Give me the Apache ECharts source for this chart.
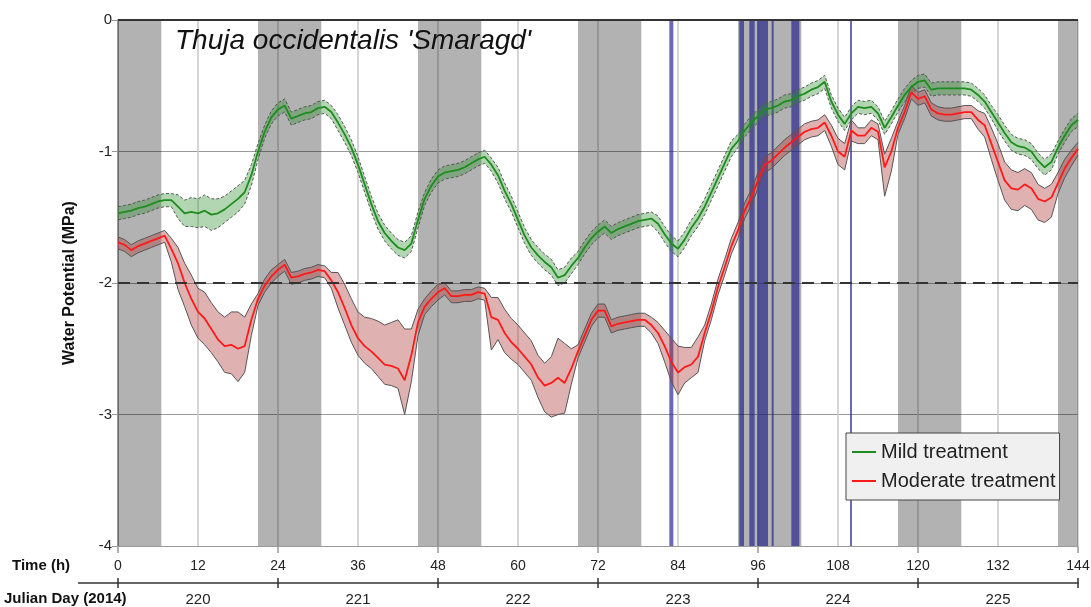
<!DOCTYPE html>
<html>
<head>
<meta charset="utf-8">
<script src="https://cdn.jsdelivr.net/npm/echarts@6/dist/echarts.min.js"></script>
<style>
  html, body { margin: 0; padding: 0; background: #fff; }
  #chart { width: 1091px; height: 607px; }
</style>
</head>
<body>
<div id="chart"></div>
<script>
// hourly readings, t = 0 .. 144 h
var green = [-1.47,-1.46,-1.45,-1.43,-1.42,-1.40,-1.38,-1.37,-1.37,-1.42,
  -1.47,-1.46,-1.47,-1.45,-1.48,-1.47,-1.44,-1.40,-1.36,-1.31,
  -1.18,-1.00,-0.85,-0.74,-0.68,-0.65,-0.75,-0.73,-0.71,-0.70,
  -0.67,-0.66,-0.70,-0.78,-0.87,-0.97,-1.10,-1.25,-1.40,-1.53,
  -1.62,-1.68,-1.73,-1.75,-1.70,-1.52,-1.36,-1.26,-1.19,-1.16,
  -1.15,-1.14,-1.12,-1.09,-1.06,-1.04,-1.10,-1.18,-1.30,-1.40,
  -1.52,-1.64,-1.73,-1.79,-1.84,-1.88,-1.96,-1.94,-1.87,-1.81,
  -1.73,-1.66,-1.61,-1.57,-1.62,-1.59,-1.57,-1.55,-1.53,-1.52,
  -1.51,-1.55,-1.63,-1.70,-1.74,-1.67,-1.58,-1.51,-1.42,-1.31,
  -1.20,-1.09,-0.98,-0.92,-0.84,-0.78,-0.73,-0.68,-0.67,-0.65,
  -0.62,-0.61,-0.58,-0.56,-0.53,-0.51,-0.47,-0.62,-0.72,-0.79,
  -0.71,-0.66,-0.67,-0.66,-0.71,-0.82,-0.74,-0.65,-0.57,-0.51,
  -0.47,-0.46,-0.53,-0.52,-0.52,-0.52,-0.52,-0.52,-0.53,-0.57,
  -0.62,-0.70,-0.78,-0.86,-0.93,-0.96,-0.97,-1.00,-1.07,-1.12,
  -1.08,-0.97,-0.88,-0.80,-0.76];

// half width of the mild band
var greenErr = [0.05,0.05,0.05,0.05,0.05,0.05,0.05,0.05,0.05,0.09,
  0.10,0.11,0.11,0.12,0.12,0.11,0.10,0.10,0.10,0.09,
  0.08,0.06,0.05,0.05,0.05,0.05,0.05,0.05,0.05,0.05,
  0.05,0.05,0.05,0.06,0.06,0.06,0.06,0.06,0.06,0.06,
  0.06,0.06,0.06,0.06,0.06,0.06,0.05,0.05,0.05,0.05,
  0.05,0.05,0.05,0.05,0.05,0.05,0.05,0.06,0.06,0.06,
  0.06,0.06,0.06,0.06,0.06,0.06,0.06,0.06,0.06,0.05,
  0.05,0.05,0.05,0.05,0.05,0.05,0.05,0.05,0.05,0.05,
  0.05,0.06,0.06,0.06,0.06,0.06,0.06,0.06,0.06,0.06,
  0.06,0.06,0.06,0.05,0.05,0.05,0.05,0.05,0.05,0.05,
  0.05,0.05,0.05,0.05,0.05,0.05,0.05,0.05,0.05,0.05,
  0.05,0.05,0.05,0.05,0.05,0.05,0.05,0.05,0.05,0.05,
  0.05,0.05,0.05,0.05,0.05,0.05,0.05,0.05,0.05,0.05,
  0.05,0.05,0.06,0.06,0.06,0.06,0.06,0.06,0.06,0.06,
  0.06,0.05,0.05,0.05,0.05];

var red = [-1.69,-1.71,-1.75,-1.72,-1.70,-1.68,-1.66,-1.64,-1.74,-1.85,
  -2.00,-2.12,-2.22,-2.27,-2.35,-2.43,-2.48,-2.47,-2.50,-2.48,
  -2.28,-2.12,-2.02,-1.95,-1.90,-1.86,-1.96,-1.95,-1.93,-1.92,
  -1.90,-1.91,-1.98,-2.07,-2.19,-2.32,-2.42,-2.48,-2.52,-2.57,
  -2.62,-2.63,-2.65,-2.74,-2.55,-2.30,-2.18,-2.12,-2.07,-2.04,
  -2.10,-2.10,-2.09,-2.09,-2.07,-2.08,-2.26,-2.28,-2.38,-2.45,
  -2.50,-2.56,-2.62,-2.72,-2.78,-2.76,-2.72,-2.76,-2.65,-2.52,
  -2.40,-2.28,-2.21,-2.21,-2.33,-2.31,-2.30,-2.29,-2.28,-2.28,
  -2.32,-2.38,-2.48,-2.60,-2.68,-2.64,-2.62,-2.56,-2.38,-2.22,
  -2.03,-1.88,-1.72,-1.60,-1.45,-1.35,-1.22,-1.10,-1.07,-1.02,
  -0.97,-0.93,-0.89,-0.85,-0.83,-0.82,-0.78,-0.88,-1.00,-1.04,
  -0.84,-0.88,-0.88,-0.82,-0.85,-1.12,-1.00,-0.82,-0.70,-0.55,
  -0.60,-0.58,-0.68,-0.71,-0.72,-0.72,-0.71,-0.70,-0.70,-0.76,
  -0.80,-0.94,-1.08,-1.22,-1.28,-1.29,-1.25,-1.28,-1.36,-1.38,
  -1.35,-1.24,-1.13,-1.05,-0.98];

// band of the moderate treatment, distance above / below the mean
var redUp = [0.04,0.04,0.04,0.04,0.04,0.04,0.04,0.04,0.08,0.12,
  0.15,0.18,0.18,0.20,0.20,0.21,0.22,0.25,0.28,0.22,
  0.12,0.04,0.05,0.05,0.04,0.04,0.04,0.04,0.04,0.04,
  0.04,0.04,0.06,0.15,0.18,0.20,0.20,0.22,0.25,0.28,
  0.30,0.33,0.37,0.39,0.20,0.10,0.06,0.06,0.06,0.04,
  0.04,0.04,0.04,0.04,0.04,0.04,0.15,0.17,0.18,0.18,
  0.18,0.18,0.18,0.17,0.17,0.20,0.30,0.30,0.15,0.05,
  0.05,0.05,0.05,0.05,0.05,0.05,0.05,0.05,0.05,0.05,
  0.06,0.08,0.12,0.18,0.20,0.15,0.13,0.15,0.06,0.06,
  0.06,0.06,0.06,0.06,0.06,0.06,0.06,0.06,0.06,0.06,
  0.06,0.06,0.06,0.06,0.06,0.06,0.06,0.08,0.10,0.10,
  0.08,0.06,0.06,0.06,0.06,0.10,0.10,0.05,0.05,0.05,
  0.05,0.05,0.05,0.05,0.05,0.05,0.05,0.05,0.05,0.07,
  0.09,0.12,0.14,0.14,0.14,0.13,0.12,0.12,0.11,0.10,
  0.10,0.08,0.07,0.06,0.05];

var redDown = [0.05,0.05,0.05,0.05,0.05,0.05,0.05,0.05,0.10,0.20,
  0.18,0.20,0.20,0.20,0.18,0.17,0.20,0.22,0.25,0.20,
  0.12,0.05,0.05,0.05,0.05,0.05,0.05,0.05,0.05,0.05,
  0.05,0.05,0.06,0.12,0.13,0.13,0.13,0.13,0.13,0.14,
  0.15,0.15,0.15,0.26,0.20,0.10,0.06,0.06,0.06,0.05,
  0.05,0.05,0.05,0.05,0.05,0.05,0.25,0.15,0.15,0.13,
  0.12,0.12,0.12,0.15,0.20,0.26,0.28,0.23,0.12,0.05,
  0.05,0.05,0.05,0.05,0.05,0.05,0.05,0.05,0.05,0.05,
  0.06,0.08,0.12,0.15,0.17,0.12,0.10,0.12,0.06,0.06,
  0.06,0.06,0.06,0.06,0.06,0.06,0.06,0.06,0.06,0.06,
  0.06,0.06,0.06,0.06,0.06,0.06,0.06,0.08,0.10,0.10,
  0.08,0.06,0.06,0.06,0.06,0.22,0.15,0.05,0.05,0.05,
  0.05,0.05,0.05,0.05,0.05,0.05,0.05,0.05,0.05,0.07,
  0.09,0.12,0.14,0.15,0.16,0.16,0.16,0.16,0.16,0.16,
  0.15,0.08,0.07,0.06,0.05];

// night periods and rain events (hours)
var nightStart = [0, 21, 45, 69, 93, 117, 141];
var nightEnd = [6.5, 30.5, 54.5, 78.5, 102.5, 126.5, 144];
var rainStart = [82.7, 93.2, 94.7, 95.9, 98.05, 101.0, 109.8];
var rainEnd = [83.3, 93.9, 95.5, 97.5, 98.35, 102.2, 110.1];

var julianDays = ['220', '221', '222', '223', '224', '225'];
var threshold = -2;

var FONT = '"Liberation Sans", Arial, sans-serif';

var hours = green.map(function (v, i) { return i; });

function pairs(f) {
  return hours.map(function (h, i) { return [h, +f(i).toFixed(3)]; });
}

// band drawn as one polygon between lower and upper limits
function bandSeries(name, lo, hi, fill, edge) {
  return {
    name: name, type: 'custom', silent: true, z: 3,
    data: hours.map(function (h, i) { return [h, lo[i], hi[i]]; }),
    encode: { x: 0, y: [1, 2] },
    renderItem: function (params, api) {
      if (params.dataIndex !== 0) return null;
      var up = hours.map(function (h, i) { return api.coord([h, hi[i]]); });
      var dn = hours.map(function (h, i) { return api.coord([h, lo[i]]); });
      return {
        type: 'group',
        children: [
          { type: 'polygon', shape: { points: up.concat(dn.slice().reverse()) }, style: { fill: fill, stroke: null } },
          { type: 'polyline', shape: { points: up }, style: { stroke: '#555', lineWidth: 1, lineDash: edge, fill: null } },
          { type: 'polyline', shape: { points: dn }, style: { stroke: '#555', lineWidth: 1, lineDash: edge, fill: null } }
        ]
      };
    }
  };
}

var greenLo = green.map(function (v, i) { return +(v - greenErr[i]).toFixed(3); });
var greenHi = green.map(function (v, i) { return +(v + greenErr[i]).toFixed(3); });
var redLo = red.map(function (v, i) { return +(v - redDown[i]).toFixed(3); });
var redHi = red.map(function (v, i) { return +(v + redUp[i]).toFixed(3); });

var shading = [];
nightStart.forEach(function (s, i) {
  shading.push([{ xAxis: s, itemStyle: { color: 'rgba(0,0,0,0.3)' } }, { xAxis: nightEnd[i] }]);
});
rainStart.forEach(function (s, i) {
  shading.push([{ xAxis: s, itemStyle: { color: 'rgba(30,30,140,0.66)' } }, { xAxis: rainEnd[i] }]);
});

var dayTicks = { show: true, interval: 0, length: 5, lineStyle: { color: '#333', width: 1.5 } };

var chart = echarts.init(document.getElementById('chart'));

chart.setOption({
  animation: false,
  textStyle: { fontFamily: FONT },
  title: {
    text: "Thuja occidentalis 'Smaragd'",
    left: 170,
    top: 22,
    textStyle: { fontSize: 28, fontStyle: 'italic', fontWeight: 'normal', color: '#111', fontFamily: FONT }
  },
  grid: { left: 118, right: 13, top: 20, bottom: 61, outerBoundsMode: 'none', containLabel: false },
  legend: {
    data: [
      { name: 'Mild treatment', icon: 'rect' },
      { name: 'Moderate treatment', icon: 'rect' }
    ],
    orient: 'vertical',
    left: 846,
    top: 433,
    backgroundColor: '#f0f0f0',
    borderColor: '#444',
    borderWidth: 1,
    borderRadius: 0,
    padding: [9, 4, 9, 6],
    itemGap: 9,
    itemWidth: 24,
    itemHeight: 2,
    textStyle: { fontSize: 20, color: '#222', fontFamily: FONT }
  },
  xAxis: [
    {
      type: 'value', min: 0, max: 144, interval: 12, position: 'bottom',
      axisLine: { show: false },
      axisTick: { show: false },
      axisLabel: { fontSize: 14, color: '#222', margin: 13 },
      splitLine: { show: true, lineStyle: { color: '#c8c8c8', width: 1.5 } }
    },
    {
      type: 'value', min: 0, max: 144, interval: 24, position: 'bottom',
      axisLine: { show: false },
      axisLabel: { show: false },
      splitLine: { show: false },
      axisTick: { show: true, length: 7, lineStyle: { color: '#999', width: 1.5 } }
    },
    {
      type: 'category', data: julianDays, position: 'bottom', offset: 37, boundaryGap: true,
      axisLine: { show: true, lineStyle: { color: '#333', width: 1.5 } },
      axisTick: dayTicks,
      axisLabel: { fontSize: 15, color: '#222', margin: 9 },
      splitLine: { show: false }
    },
    {
      type: 'category', data: julianDays, position: 'bottom', offset: 37, boundaryGap: true,
      axisLine: { show: false },
      axisTick: { show: true, interval: 0, inside: true, length: 5, lineStyle: { color: '#333', width: 1.5 } },
      axisLabel: { show: false },
      splitLine: { show: false }
    }
  ],
  yAxis: {
    type: 'value', min: -4, max: 0, interval: 1,
    name: 'Water Potential (MPa)',
    nameLocation: 'middle',
    nameGap: 40,
    nameTextStyle: { fontSize: 16, fontWeight: 'bold', color: '#111' },
    axisLine: { show: true, lineStyle: { color: '#999', width: 2 } },
    axisTick: { show: true, length: 6, lineStyle: { color: '#999' } },
    axisLabel: { fontSize: 15, color: '#222', margin: 6 },
    splitLine: { show: true, lineStyle: { color: '#9a9a9a', width: 1 } }
  },
  graphic: [
    { type: 'text', left: 12, top: 558, style: { text: 'Time (h)', font: 'bold 15px ' + FONT, fill: '#111' } },
    { type: 'text', left: 4, top: 591, style: { text: 'Julian Day (2014)', font: 'bold 15px ' + FONT, fill: '#111' } },
    { type: 'line', shape: { x1: 78, y1: 583, x2: 118, y2: 583 }, style: { stroke: '#333', lineWidth: 1.5 } }
  ],
  series: [
    {
      name: 'shading', type: 'line', data: [], silent: true, z: 1,
      markArea: { silent: true, data: shading },
      markLine: {
        silent: true, symbol: 'none', label: { show: false },
        data: [
          { yAxis: threshold, lineStyle: { color: '#333', width: 2.2, type: [12, 7] } },
          { yAxis: 0, lineStyle: { color: '#333', width: 2, type: 'solid' } }
        ]
      }
    },
    bandSeries('mildBand', greenLo, greenHi, 'rgba(40,140,40,0.36)', [3, 2]),
    bandSeries('moderateBand', redLo, redHi, 'rgba(170,50,50,0.38)', null),
    {
      name: 'Mild treatment', type: 'line', symbol: 'none', z: 4,
      itemStyle: { color: '#1e8c1e' },
      lineStyle: { color: '#1e8c1e', width: 1.8 },
      data: pairs(function (i) { return green[i]; })
    },
    {
      name: 'Moderate treatment', type: 'line', symbol: 'none', z: 4,
      itemStyle: { color: '#ff1a1a' },
      lineStyle: { color: '#ff1a1a', width: 1.8 },
      data: pairs(function (i) { return red[i]; })
    }
  ]
});
</script>
</body>
</html>
